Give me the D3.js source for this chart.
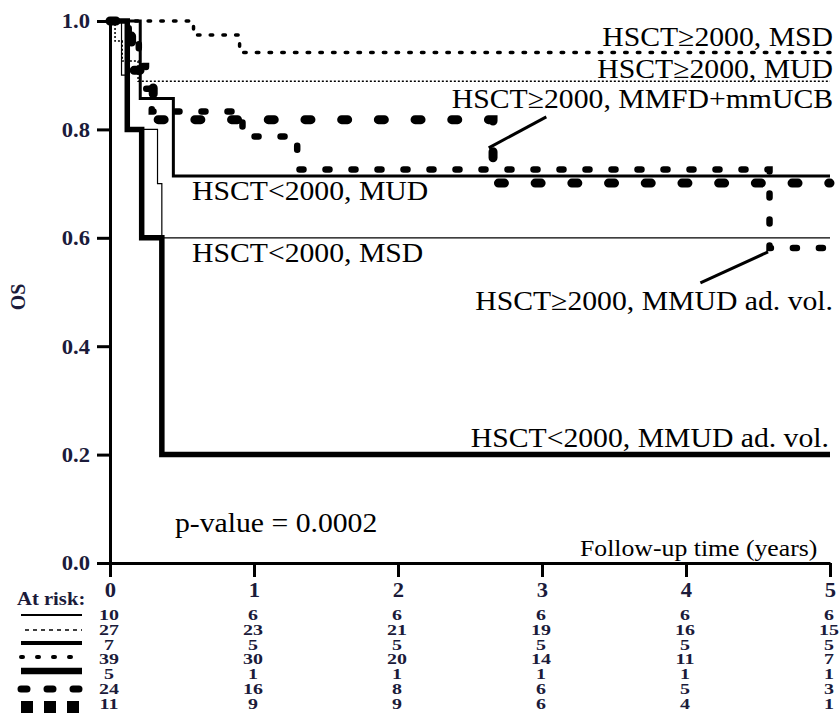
<!DOCTYPE html>
<html>
<head>
<meta charset="utf-8">
<script src="https://cdn.jsdelivr.net/npm/d3@7"></script>
<style>
  body { margin: 0; background: #fff; }
  text { font-family: "Liberation Serif", "Times New Roman", serif; }
</style>
</head>
<body>
<div id="chart-area"></div>
<script>
// follow-up years and OS ticks
var years = [0, 1, 2, 3, 4, 5];
var osTicks = [0, 0.2, 0.4, 0.6, 0.8, 1.0];

// Kaplan-Meier steps: [years, OS]
var msdLow   = [[0, 1], [0.08, 0.9], [0.12, 0.8], [0.33, 0.7], [0.36, 0.6], [5, 0.6]];
var mudHigh  = [[0, 1], [0.035, 0.963], [0.085, 0.926], [0.195, 0.889], [5, 0.889]];
var mudLow   = [[0, 1], [0.21, 0.857], [0.44, 0.714], [5, 0.714]];
var msdHigh  = [[0, 1], [0.58, 0.974], [0.90, 0.942], [5, 0.942]];
var mmudLow  = [[0, 1], [0.12, 0.8], [0.22, 0.6], [0.36, 0.2], [5, 0.2]];
var mmudHigh = [[0, 1], [0.13, 0.958], [0.20, 0.917], [0.25, 0.875], [0.29, 0.833],
                [0.92, 0.787], [1.30, 0.726], [4.58, 0.581], [5, 0.581]];
var mmfdHigh = [[0, 1], [0.15, 0.909], [0.30, 0.818], [2.66, 0.701], [5, 0.701]];

// numbers at risk at 0..5 years (table order)
var riskMsdLow   = [10, 6, 6, 6, 6, 6];
var riskMudHigh  = [27, 23, 21, 19, 16, 15];
var riskMudLow   = [7, 5, 5, 5, 5, 5];
var riskMsdHigh  = [39, 30, 20, 14, 11, 7];
var riskMmudLow  = [5, 1, 1, 1, 1, 1];
var riskMmudHigh = [24, 16, 8, 6, 5, 3];
var riskMmfdHigh = [11, 9, 9, 6, 4, 1];

var width = 839, height = 713;
var tickColor = "#1b1b3a";

var svg = d3.select("#chart-area")
    .append("svg")
    .attr("width", width)
    .attr("height", height);

var x = d3.scaleLinear().domain([0, 5]).range([110, 830]);
var y = d3.scaleLinear().domain([0, 1]).range([563, 21]);

// styles: plot stroke + legend swatch stroke
var series = [
    { data: msdLow,   risk: riskMsdLow,   w: 1.2, dash: null,       cap: "butt",
      lw: 2,   ldash: null,     lcap: "butt" },
    { data: mudHigh,  risk: riskMudHigh,  w: 1.5, dash: "2,2",      cap: "butt",
      lw: 1.6, ldash: "4,4",    lcap: "butt" },
    { data: mudLow,   risk: riskMudLow,   w: 3,   dash: null,       cap: "butt",
      lw: 4,   ldash: null,     lcap: "butt" },
    { data: msdHigh,  risk: riskMsdHigh,  w: 3.5, dash: "2.5,10.2", cap: "round",
      lw: 4,   ldash: "2,14",   lcap: "round" },
    { data: mmudLow,  risk: riskMmudLow,  w: 5.5, dash: null,       cap: "butt",
      lw: 6.5, ldash: null,     lcap: "butt" },
    { data: mmudHigh, risk: riskMmudHigh, w: 6.5, dash: "4,22",     cap: "round",
      lw: 7,   ldash: "6,20",   lcap: "round" },
    { data: mmfdHigh, risk: riskMmfdHigh, w: 9,   dash: "6,30.7",   cap: "round",
      lw: 12,  ldash: "12,11",  lcap: "butt" }
];

var line = d3.line()
    .x(function(d) { return x(d[0]); })
    .y(function(d) { return y(d[1]); })
    .curve(d3.curveStepAfter);

// dashed curves below, solid lines on top
var drawOrder = [6, 5, 3, 1, 0, 2, 4];
drawOrder.forEach(function(i) {
    var s = series[i];
    svg.append("path")
        .datum(s.data)
        .attr("d", line)
        .attr("fill", "none")
        .attr("stroke", "#000")
        .attr("stroke-width", s.w)
        .attr("stroke-linecap", s.cap)
        .attr("stroke-dasharray", s.dash);
});

// axes
var yAxis = svg.append("g")
    .attr("transform", "translate(" + x(0) + ",0)")
    .call(d3.axisLeft(y).tickValues(osTicks).tickFormat(d3.format(".1f"))
        .tickSize(13).tickSizeOuter(0).tickPadding(7));

var xAxis = svg.append("g")
    .attr("transform", "translate(0," + y(0) + ")")
    .call(d3.axisBottom(x).tickValues(years).tickFormat(d3.format("d"))
        .tickSize(14).tickSizeOuter(0).tickPadding(3));

[yAxis, xAxis].forEach(function(a) {
    a.select(".domain").attr("stroke", "#000").attr("stroke-width", 3);
    a.selectAll(".tick line").attr("stroke", "#000").attr("stroke-width", 3);
    a.selectAll(".tick text")
        .attr("fill", tickColor)
        .style("font-family", "'Liberation Serif', serif")
        .style("font-weight", "bold")
        .style("font-size", "20px");
});
yAxis.selectAll(".tick text").attr("transform", "scale(1.13,1)").attr("x", -20 / 1.13).attr("dy", "0.34em");
xAxis.selectAll(".tick text").attr("transform", "scale(1.13,1)").attr("dy", "0.85em");

// text helper with horizontal stretch
function label(str, px, py, size, anchor, weight, sx, color) {
    return svg.append("text")
        .attr("transform", "translate(" + px + "," + py + ") scale(" + sx + ",1)")
        .attr("text-anchor", anchor)
        .attr("font-size", size)
        .attr("font-weight", weight)
        .attr("fill", color || "#000")
        .text(str);
}

label("HSCT\u22652000, MSD", 833, 46, 27, "end", "normal", 1.1);
label("HSCT\u22652000, MUD", 833, 78, 27, "end", "normal", 1.1);
label("HSCT\u22652000, MMFD+mmUCB", 833, 108, 27, "end", "normal", 1.1);
label("HSCT<2000, MUD", 192, 200, 27, "start", "normal", 1.1);
label("HSCT<2000, MSD", 192, 262, 27, "start", "normal", 1.1);
label("HSCT\u22652000, MMUD ad. vol.", 833, 310, 27, "end", "normal", 1.1);
label("HSCT<2000, MMUD ad. vol.", 829, 447, 27, "end", "normal", 1.1);
label("p-value = 0.0002", 175, 532, 27, "start", "normal", 1.1);
label("Follow-up time (years)", 580, 556, 23, "start", "normal", 1.12);

// pointer lines
svg.append("line")
    .attr("x1", x(3.03)).attr("y1", y(0.823))
    .attr("x2", x(2.63)).attr("y2", y(0.766))
    .attr("stroke", "#000").attr("stroke-width", 3);
svg.append("line")
    .attr("x1", x(4.10)).attr("y1", y(0.517))
    .attr("x2", x(4.57)).attr("y2", y(0.574))
    .attr("stroke", "#000").attr("stroke-width", 3);

// y axis title
svg.append("text")
    .attr("transform", "translate(25,297) rotate(-90)")
    .attr("text-anchor", "middle")
    .attr("font-size", 20)
    .attr("font-weight", "bold")
    .attr("fill", tickColor)
    .text("OS");

// at-risk table
label("At risk:", 17, 605, 19.5, "start", "bold", 1.06, tickColor);

var rowBase = [620, 635, 650, 664, 679, 694, 709];
var swatchY = [615, 630, 643, 657, 671, 689, 707];

series.forEach(function(s, i) {
    svg.append("line")
        .attr("x1", i === 1 ? 25 : 21).attr("x2", 82)
        .attr("y1", swatchY[i]).attr("y2", swatchY[i])
        .attr("stroke", "#000")
        .attr("stroke-width", s.lw)
        .attr("stroke-linecap", s.lcap)
        .attr("stroke-dasharray", s.ldash);

    s.risk.forEach(function(n, j) {
        label(n, x(years[j]) - 1, rowBase[i], 15, "middle", "bold", 1.33, tickColor);
    });
});
</script>
</body>
</html>
